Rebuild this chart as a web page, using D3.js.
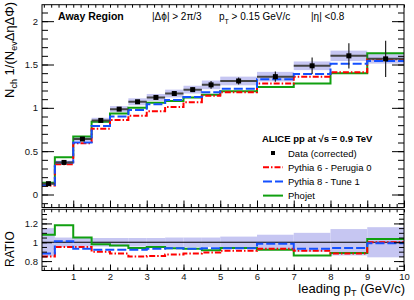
<!DOCTYPE html>
<html>
<head>
<meta charset="utf-8">
<script src="https://cdn.jsdelivr.net/npm/d3@7"></script>
<style>
  body { margin: 0; background: #fff; }
  svg { font-family: "Liberation Sans", Arial, sans-serif; }
</style>
</head>
<body>
<div id="chart"></div>
<script>
// bins in leading pT (GeV/c)
var binLo = [0.15, 0.5, 1, 1.5, 2, 2.5, 3, 3.5, 4, 4.5, 5, 6, 7, 8, 9];
var binHi = [0.5, 1, 1.5, 2, 2.5, 3, 3.5, 4, 4.5, 5, 6, 7, 8, 9, 10];

// data (corrected) with stat and sys errors
var dataVal = [0.125, 0.37, 0.64, 0.855, 0.985, 1.07, 1.12, 1.165, 1.21, 1.265, 1.31, 1.36, 1.485, 1.60, 1.565];
var statErr = [0.005, 0.008, 0.01, 0.01, 0.012, 0.015, 0.015, 0.02, 0.025, 0.045, 0.04, 0.06, 0.095, 0.145, 0.21];
var sysErr = [0.01, 0.02, 0.025, 0.03, 0.035, 0.04, 0.04, 0.045, 0.045, 0.05, 0.05, 0.055, 0.05, 0.06, 0.055];

// MC predictions
var pythia6 = [0.105, 0.35, 0.59, 0.76, 0.86, 0.91, 0.96, 1.01, 1.065, 1.14, 1.18, 1.28, 1.36, 1.41, 1.56];
var pythia8 = [0.11, 0.37, 0.60, 0.79, 0.90, 0.975, 1.04, 1.09, 1.125, 1.18, 1.22, 1.33, 1.39, 1.51, 1.54];
var phojet = [0.135, 0.43, 0.67, 0.84, 0.935, 1.00, 1.06, 1.08, 1.12, 1.15, 1.19, 1.24, 1.28, 1.40, 1.63];

// ratio MC / data
var ratioP6 = [0.85, 0.95, 0.95, 0.90, 0.88, 0.85, 0.855, 0.87, 0.88, 0.89, 0.91, 0.93, 0.91, 0.88, 1.0];
var ratioP8 = [0.88, 1.01, 0.93, 0.92, 0.92, 0.92, 0.93, 0.935, 0.93, 0.935, 0.935, 0.985, 0.93, 0.94, 0.99];
var ratioPho = [1.08, 1.18, 1.05, 0.98, 0.965, 0.94, 0.95, 0.935, 0.93, 0.915, 0.94, 0.92, 0.86, 0.887, 1.035];
var ratioErr = [0.15, 0.05, 0.045, 0.045, 0.045, 0.045, 0.045, 0.05, 0.05, 0.05, 0.06, 0.08, 0.10, 0.14, 0.16];

var yTicksTop = [0, 0.5, 1, 1.5, 2];
var yTicksRatio = [0.8, 1, 1.2];
var xTicks = [1, 2, 3, 4, 5, 6, 7, 8, 9, 10];

var bandColor = "#c6c6f2";
var red = "#ff0000", blue = "#1450ff", green = "#10a010";

var svg = d3.select("#chart").append("svg")
    .attr("width", 414)
    .attr("height", 300);

var x = d3.scaleLinear().domain([0.15, 10]).range([42, 404]);
var yTop = d3.scaleLinear().domain([-0.15, 2.19]).range([207.5, 4.7]);
var yRat = d3.scaleLinear().domain([0.7, 1.35]).range([270.5, 209.3]);

var bins = binLo.map(function(lo, i) { return {lo: lo, hi: binHi[i], i: i}; });

// clip paths
var defs = svg.append("defs");
defs.append("clipPath").attr("id", "clipTop").append("rect")
    .attr("x", 42).attr("y", 4.7).attr("width", 362).attr("height", 202.8);
defs.append("clipPath").attr("id", "clipRat").append("rect")
    .attr("x", 42).attr("y", 209.3).attr("width", 362).attr("height", 61.2);

function stepPts(vals) {
    var pts = [];
    bins.forEach(function(b) {
        pts.push([b.lo, vals[b.i]]);
        pts.push([b.hi, vals[b.i]]);
    });
    return pts;
}

function drawHist(g, y, vals, color, dash) {
    var line = d3.line()
        .x(function(d) { return x(d[0]); })
        .y(function(d) { return y(d[1]); });
    g.append("path")
        .attr("d", line(stepPts(vals)))
        .attr("fill", "none")
        .attr("stroke", color)
        .attr("stroke-width", 2)
        .attr("stroke-dasharray", dash);
}

// ---- top panel ----
var topG = svg.append("g").attr("clip-path", "url(#clipTop)");

topG.selectAll(".sys")
    .data(bins)
    .enter().append("rect")
    .attr("x", function(d) { return x(d.lo); })
    .attr("width", function(d) { return x(d.hi) - x(d.lo); })
    .attr("y", function(d) { return yTop(dataVal[d.i] + sysErr[d.i]); })
    .attr("height", function(d) { return yTop(dataVal[d.i] - sysErr[d.i]) - yTop(dataVal[d.i] + sysErr[d.i]); })
    .style("fill", bandColor);

drawHist(topG, yTop, phojet, green, null);
drawHist(topG, yTop, pythia6, red, "6,2,1.5,2");
drawHist(topG, yTop, pythia8, blue, "9,3");

topG.selectAll(".xerr")
    .data(bins)
    .enter().append("line")
    .attr("x1", function(d) { return x(d.lo); })
    .attr("x2", function(d) { return x(d.hi); })
    .attr("y1", function(d) { return yTop(dataVal[d.i]); })
    .attr("y2", function(d) { return yTop(dataVal[d.i]); })
    .style("stroke", "#444")
    .style("stroke-width", 2);

topG.selectAll(".yerr")
    .data(bins)
    .enter().append("line")
    .attr("x1", function(d) { return x((d.lo + d.hi) / 2); })
    .attr("x2", function(d) { return x((d.lo + d.hi) / 2); })
    .attr("y1", function(d) { return yTop(dataVal[d.i] - statErr[d.i]); })
    .attr("y2", function(d) { return yTop(dataVal[d.i] + statErr[d.i]); })
    .style("stroke", "#222")
    .style("stroke-width", 1.2);

topG.selectAll(".pt")
    .data(bins)
    .enter().append("rect")
    .attr("x", function(d) { return x((d.lo + d.hi) / 2) - 2.5; })
    .attr("y", function(d) { return yTop(dataVal[d.i]) - 2.5; })
    .attr("width", 5)
    .attr("height", 5)
    .style("fill", "#000");

// ---- ratio panel ----
var ratG = svg.append("g").attr("clip-path", "url(#clipRat)");

ratG.selectAll(".band")
    .data(bins)
    .enter().append("rect")
    .attr("x", function(d) { return x(d.lo); })
    .attr("width", function(d) { return x(d.hi) - x(d.lo); })
    .attr("y", function(d) { return yRat(1 + ratioErr[d.i]); })
    .attr("height", function(d) { return yRat(1 - ratioErr[d.i]) - yRat(1 + ratioErr[d.i]); })
    .style("fill", bandColor);

ratG.append("line")
    .attr("x1", x(0.15)).attr("x2", x(10))
    .attr("y1", yRat(1)).attr("y2", yRat(1))
    .style("stroke", "#000").style("stroke-width", 1.2);

drawHist(ratG, yRat, ratioPho, green, null);
drawHist(ratG, yRat, ratioP6, red, "6,2,1.5,2");
drawHist(ratG, yRat, ratioP8, blue, "9,3");

// ---- axes ----
function minorTicks(lo, hi, step) {
    var t = [];
    for (var v = lo; v <= hi + 1e-9; v += step) t.push(+v.toFixed(3));
    return t;
}
var xMinor = minorTicks(0.2, 10, 0.2);

function drawAxes(y, yMajor, yMinor, x0, x1, y0, y1, xTickUp, xTickDown, yLen, showX) {
    // y major/minor on left and right, inward
    var g = svg.append("g").attr("class", "axes");
    g.append("g").attr("transform", "translate(42,0)")
        .call(d3.axisLeft(y).tickValues(yMinor).tickSize(-yLen / 2).tickFormat(""));
    g.append("g").attr("transform", "translate(42,0)")
        .call(d3.axisLeft(y).tickValues(yMajor).tickSize(-yLen).tickPadding(4)
            .tickFormat(function(d) { return d; }));
    g.append("g").attr("transform", "translate(404,0)")
        .call(d3.axisRight(y).tickValues(yMinor).tickSize(-yLen / 2).tickFormat(""));
    g.append("g").attr("transform", "translate(404,0)")
        .call(d3.axisRight(y).tickValues(yMajor).tickSize(-yLen).tickFormat(""));
    // x ticks bottom (up) and top (down)
    g.append("g").attr("transform", "translate(0," + y1 + ")")
        .call(d3.axisBottom(x).tickValues(xMinor).tickSize(-xTickUp / 2).tickFormat(""));
    g.append("g").attr("transform", "translate(0," + y1 + ")")
        .call(d3.axisBottom(x).tickValues(xTicks).tickSize(-xTickUp).tickPadding(3)
            .tickFormat(showX ? function(d) { return d; } : ""));
    g.append("g").attr("transform", "translate(0," + y0 + ")")
        .call(d3.axisTop(x).tickValues(xMinor).tickSize(-xTickDown).tickFormat(""));
    g.selectAll(".domain").remove();
    g.selectAll("text").style("font-size", "9.5px").style("font-family", "Liberation Sans, Arial").attr("fill", "#111");
    g.selectAll("line").style("stroke", "#000");
    svg.append("rect")
        .attr("x", x0).attr("y", y0).attr("width", x1 - x0).attr("height", y1 - y0)
        .style("fill", "none").style("stroke", "#000").style("stroke-width", 1);
}

drawAxes(yTop, yTicksTop, minorTicks(-0.1, 2.1, 0.1), 42, 404, 4.7, 207.5, 7, 3, 12, false);
drawAxes(yRat, yTicksRatio, minorTicks(0.75, 1.3, 0.05), 42, 404, 209.3, 270.5, 6, 3, 10, true);

// ---- texts ----
var txt = svg.append("g").style("fill", "#000");

txt.append("text").attr("x", 58).attr("y", 20)
    .style("font-size", "10.5px").style("font-weight", "bold").text("Away Region");
txt.append("text").attr("x", 152).attr("y", 20)
    .style("font-size", "10px").text("|Δϕ| > 2π/3");
var ptTxt = txt.append("text").attr("x", 219).attr("y", 20).style("font-size", "10px");
ptTxt.append("tspan").text("p");
ptTxt.append("tspan").attr("dy", 4).style("font-size", "7px").text("T");
ptTxt.append("tspan").attr("dy", -4).text(" > 0.15 GeV/c");
txt.append("text").attr("x", 311).attr("y", 20)
    .style("font-size", "10px").text("|η| <0.8");

// legend
var legendNames = ["Data (corrected)", "Pythia 6 -  Perugia 0", "Pythia 8 -  Tune 1", "Phojet"];
var legendColors = [null, red, blue, green];
var legendDash = [null, "6,2,1.5,2", "9,3", null];

txt.append("text").attr("x", 262).attr("y", 142)
    .style("font-size", "9.5px").style("font-weight", "bold").text("ALICE pp at  √s = 0.9 TeV");

legendNames.forEach(function(name, i) {
    var yy = 153 + i * 14.2;
    if (i === 0) {
        svg.append("rect").attr("x", 271).attr("y", yy - 2).attr("width", 4).attr("height", 4).style("fill", "#000");
    } else {
        svg.append("line").attr("x1", 263).attr("x2", 283).attr("y1", yy).attr("y2", yy)
            .style("stroke", legendColors[i]).style("stroke-width", 2)
            .style("stroke-dasharray", legendDash[i]);
    }
    txt.append("text").attr("x", 288).attr("y", yy + 3.5)
        .style("font-size", "9.5px").text(name);
});

// axis titles
var yTitle = txt.append("text")
    .attr("transform", "translate(14,2) rotate(-90)")
    .attr("text-anchor", "end")
    .style("font-size", "13px");
yTitle.append("tspan").text("N");
yTitle.append("tspan").attr("dy", 3).style("font-size", "9px").text("ch");
yTitle.append("tspan").attr("dy", -3).text(" 1/(N");
yTitle.append("tspan").attr("dy", 3).style("font-size", "9px").text("ev");
yTitle.append("tspan").attr("dy", -3).text("ΔηΔΦ)");

txt.append("text")
    .attr("transform", "translate(14,267) rotate(-90)")
    .style("font-size", "12px").text("RATIO");

var xTitle = txt.append("text")
    .attr("x", 405).attr("y", 293)
    .attr("text-anchor", "end")
    .style("font-size", "13px");
xTitle.append("tspan").text("leading p");
xTitle.append("tspan").attr("dy", 3).style("font-size", "9px").text("T");
xTitle.append("tspan").attr("dy", -3).text(" (GeV/c)");
</script>
</body>
</html>
